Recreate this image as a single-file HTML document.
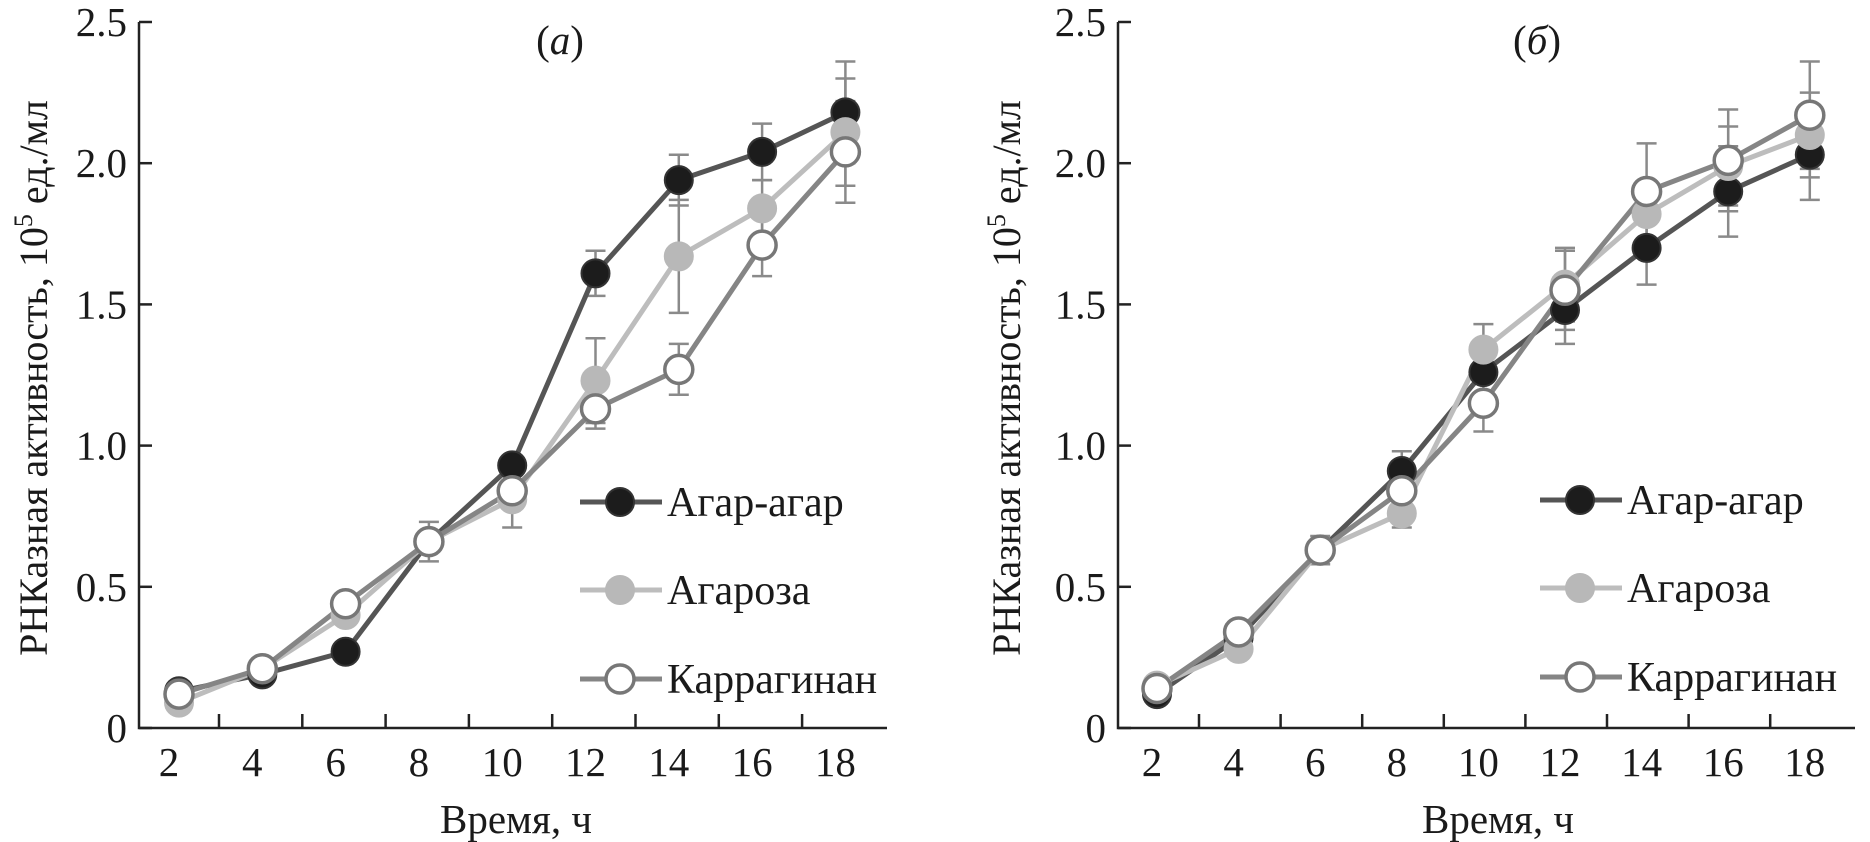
<!DOCTYPE html>
<html><head><meta charset="utf-8"><style>
html,body{margin:0;padding:0;background:#fff;}
svg{display:block;}
svg text, svg tspan{font-family:"Liberation Serif","Noto Serif CJK SC","DejaVu Serif",serif;}
</style></head><body>
<svg id="chart" width="1870" height="842" viewBox="0 0 1870 842" xmlns="http://www.w3.org/2000/svg"></svg>
<script>
const times = [2,4,6,8,10,12,14,16,18];
const yTicks = [0,0.5,1.0,1.5,2.0,2.5];
const yTickLabels = ["0","0.5","1.0","1.5","2.0","2.5"];
const seriesNames = ["Агар-агар","Агароза","Каррагинан"];
// Panel (а)
const aAgar = [0.13,0.19,0.27,0.66,0.93,1.61,1.94,2.04,2.18];
const aAgarose = [0.09,0.21,0.40,0.66,0.81,1.23,1.67,1.84,2.11];
const aCarr = [0.12,0.21,0.44,0.66,0.84,1.13,1.27,1.71,2.04];
const aAgarErr = [0,0,0,0.07,0,0.08,0.09,0.10,0.18];
const aAgaroseErr = [0,0,0,0,0.10,0.15,0.20,0.10,0.19];
const aCarrErr = [0,0,0,0,0,0.07,0.09,0.11,0.18];
// Panel (б)
const bAgar = [0.12,0.32,0.63,0.91,1.26,1.48,1.70,1.90,2.03];
const bAgarose = [0.15,0.28,0.63,0.76,1.34,1.57,1.82,1.99,2.10];
const bCarr = [0.14,0.34,0.63,0.84,1.15,1.55,1.90,2.01,2.17];
const bAgarErr = [0,0,0,0.07,0,0.12,0.13,0.16,0.16];
const bAgaroseErr = [0,0,0.05,0.05,0.09,0.13,0,0.14,0.15];
const bCarrErr = [0,0,0,0,0.10,0.14,0.17,0.18,0.19];

const NS="http://www.w3.org/2000/svg";
const svg=document.getElementById('chart');
function el(tag,attrs,parent){const e=document.createElementNS(NS,tag);for(const k in attrs)e.setAttribute(k,attrs[k]);(parent||svg).appendChild(e);return e;}
const styles=[
 {line:"#555",fill:"#1c1c1c",stroke:"#333"},
 {line:"#bdbdbd",fill:"#b8b8b8",stroke:"#b8b8b8"},
 {line:"#858585",fill:"#ffffff",stroke:"#777"}
];
function panel(cfg){
  const g=el('g',{});
  
  
  const y0=728, yTop=22, unit=(y0-yTop)/2.5;
  const yS=v=>y0-v*unit;
  const xS=t=>cfg.px0+(t-2)/2*cfg.step;
  const ax=el('path',{d:`M${cfg.ax} ${yTop}V${y0}H${cfg.axEnd}`,stroke:"#222","stroke-width":2.5,fill:"none"},g);
  
  
  yTicks.forEach((v,i)=>{
    const t=el('line',{x1:cfg.ax,x2:cfg.ax+13,y1:yS(v),y2:yS(v),stroke:"#222","stroke-width":2.5},g);
    
    
    const l=el('text',{x:cfg.ax-12,y:yS(v)+14,"text-anchor":"end","font-size":41,fill:"#1a1a1a"},g);
    l.textContent=yTickLabels[i];
    
    
  });
  for(let k=0;k<8;k++){
    const x=cfg.tick0+k*cfg.step;
    const t=el('line',{x1:x,x2:x,y1:y0,y2:y0-14,stroke:"#222","stroke-width":2.5},g);
    
    
  }
  times.forEach(tm=>{
    const l=el('text',{x:xS(tm)-cfg.lblOff,y:776,"text-anchor":"middle","font-size":41,fill:"#1a1a1a"},g);
    l.textContent=tm;
    
    
  });
  const xt=el('text',{x:cfg.xTitle,y:833,"text-anchor":"middle","font-size":41,fill:"#1a1a1a"},g);
  xt.textContent="Время, ч";
  
  
  const yt=el('text',{transform:`translate(${cfg.yTitle},378) rotate(-90)`,"text-anchor":"middle","font-size":40,fill:"#1a1a1a"},g);
  yt.innerHTML='РНКазная активность, 10<tspan dy="-15" font-size="26">5</tspan><tspan dy="15"> ед./мл</tspan>';
  
  
  const pt=el('text',{x:cfg.title,y:54,"text-anchor":"middle","font-size":41,fill:"#1a1a1a"},g);
  pt.innerHTML='(<tspan font-style="italic">'+cfg.letter+'</tspan>)';
  
  
  cfg.series.forEach((s,si)=>{
    s.forEach((v,i)=>{
      const e=cfg.errs[si][i]; if(!e) return;
      const x=xS(times[i]);
      const eb=el('path',{d:`M${x} ${yS(v-e)}V${yS(v+e)}M${x-10} ${yS(v-e)}H${x+10}M${x-10} ${yS(v+e)}H${x+10}`,stroke:"#8a8a8a","stroke-width":2.5,fill:"none"},g);
      
      
    });
  });
  cfg.series.forEach((s,si)=>{
    const st=styles[si];
    const pl=el('polyline',{points:s.map((v,i)=>xS(times[i])+','+yS(v)).join(' '),stroke:st.line,"stroke-width":5,fill:"none","stroke-linejoin":"round"},g);
    
    
  });
  cfg.series.forEach((s,si)=>{
    const st=styles[si];
    s.forEach((v,i)=>{
      const c=el('circle',{cx:xS(times[i]),cy:yS(v),r:14,fill:st.fill,stroke:st.stroke,"stroke-width":si===2?3.5:2},g);
      
      
    });
  });
  const ly=[cfg.legY,cfg.legY+88,cfg.legY+177];
  seriesNames.forEach((n,si)=>{
    const st=styles[si];
    const lg=el('g',{},g);
    
    
    el('line',{x1:cfg.legX,x2:cfg.legX+82,y1:ly[si],y2:ly[si],stroke:st.line,"stroke-width":5},lg);
    el('circle',{cx:cfg.legX+40,cy:ly[si],r:14,fill:st.fill,stroke:st.stroke,"stroke-width":si===2?3.5:2},lg);
    const t=el('text',{x:cfg.legX+87,y:ly[si]+14,"font-size":42,fill:"#1a1a1a"},lg);
    t.textContent=n;
  });
}
panel({name:'panel-a',letter:'а',ax:139,axEnd:887,px0:179,step:83.3,tick0:219,lblOff:10,xTitle:516,yTitle:47,title:560,legX:580,legY:502,
  series:[aAgar,aAgarose,aCarr],errs:[aAgarErr,aAgaroseErr,aCarrErr]});
panel({name:'panel-b',letter:'б',ax:1118,axEnd:1855,px0:1157,step:81.6,tick0:1199,lblOff:5,xTitle:1498,yTitle:1020,title:1537,legX:1540,legY:500,
  series:[bAgar,bAgarose,bCarr],errs:[bAgarErr,bAgaroseErr,bCarrErr]});
</script>
</body></html>
